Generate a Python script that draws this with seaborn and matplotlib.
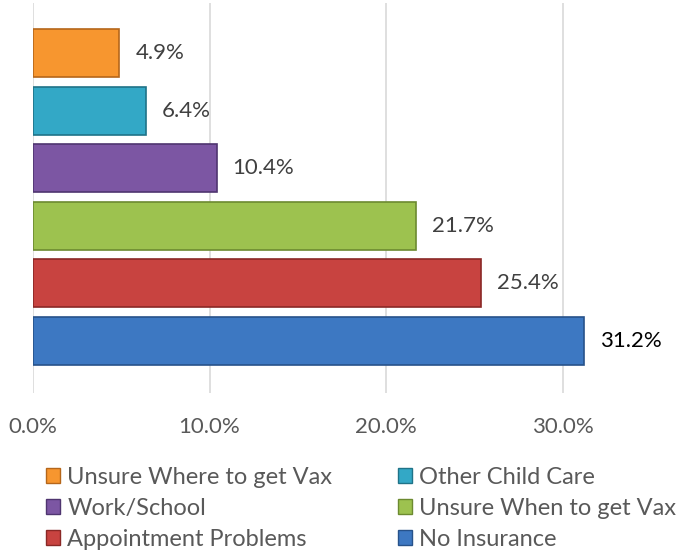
import matplotlib
matplotlib.use("Agg")
import matplotlib.pyplot as plt
import seaborn as sns
import pandas as pd
from matplotlib.patches import Patch

# ---- data ----
categories = ["Unsure Where to get Vax", "Other Child Care", "Work/School",
              "Unsure When to get Vax", "Appointment Problems", "No Insurance"]
values = [4.9, 6.4, 10.4, 21.7, 25.4, 31.2]
colors = ["#F7962F", "#33A8C6", "#7C56A3", "#9DC24F", "#C84340", "#3D78C2"]
edge_colors = ["#B5661A", "#1F7388", "#4F3570", "#6C8A30", "#8A2826", "#27528A"]
tick_values = [0, 10, 20, 30]
tick_labels = ["0.0%", "10.0%", "20.0%", "30.0%"]
legend_col1 = ["Unsure Where to get Vax", "Work/School", "Appointment Problems"]
legend_col2 = ["Other Child Care", "Unsure When to get Vax", "No Insurance"]

sns.set_theme(style="white")
plt.rcParams["font.family"] = ["Lato", "DejaVu Sans"]

df = pd.DataFrame({"category": categories, "value": values})

W, H = 686, 550
fig = plt.figure(figsize=(W / 100, H / 100), dpi=100)
ax_left, ax_right, ax_top, ax_bottom = 33, 650.75, 3, 393
ax = fig.add_axes([ax_left / W, (H - ax_bottom) / H,
                   (ax_right - ax_left) / W, (ax_bottom - ax_top) / H])

sns.barplot(data=df, x="value", y="category", hue="category",
            palette=dict(zip(categories, colors)), order=categories,
            hue_order=categories, width=0.835, legend=False, ax=ax,
            saturation=1, linewidth=1.2, zorder=3)
for patch, ec in zip(ax.patches, edge_colors):
    patch.set_edgecolor(ec)

label_colors = ["#404040"] * 5 + ["#000000"]
for cont, lc in zip(ax.containers, label_colors):
    ax.bar_label(cont, labels=[f"{v:.1f}%" for v in cont.datavalues],
                 padding=11.5, fontsize=16, color=lc)

ax.set_xlim(0, 35)
ax.set_ylim(5.913, -0.87)
ax.set_xticks(tick_values)
ax.set_xticklabels(tick_labels, fontsize=16, color="#595959")
ax.tick_params(axis="x", length=0, pad=17)
ax.set_yticks([])
ax.set_xlabel("")
ax.set_ylabel("")
for s in ax.spines.values():
    s.set_visible(False)
ax.grid(axis="x", color="#D9D9D9", linewidth=1.2, zorder=0)
ax.set_axisbelow(True)

col_map = dict(zip(categories, zip(colors, edge_colors)))

def make_handles(names):
    return [Patch(facecolor=col_map[n][0], edgecolor=col_map[n][1], linewidth=1)
            for n in names]

leg_kw = dict(frameon=False, fontsize=17, handlelength=0.6, handleheight=0.6,
              handletextpad=0.3, labelspacing=0.42, borderpad=0, borderaxespad=0,
              labelcolor="#595959", loc="upper left")
fig.legend(make_handles(legend_col1), legend_col1,
           bbox_to_anchor=(46 / W, 1 - 467 / H), **leg_kw)
fig.legend(make_handles(legend_col2), legend_col2,
           bbox_to_anchor=(398 / W, 1 - 467 / H), **leg_kw)

fig.savefig("out.png", dpi=100)
